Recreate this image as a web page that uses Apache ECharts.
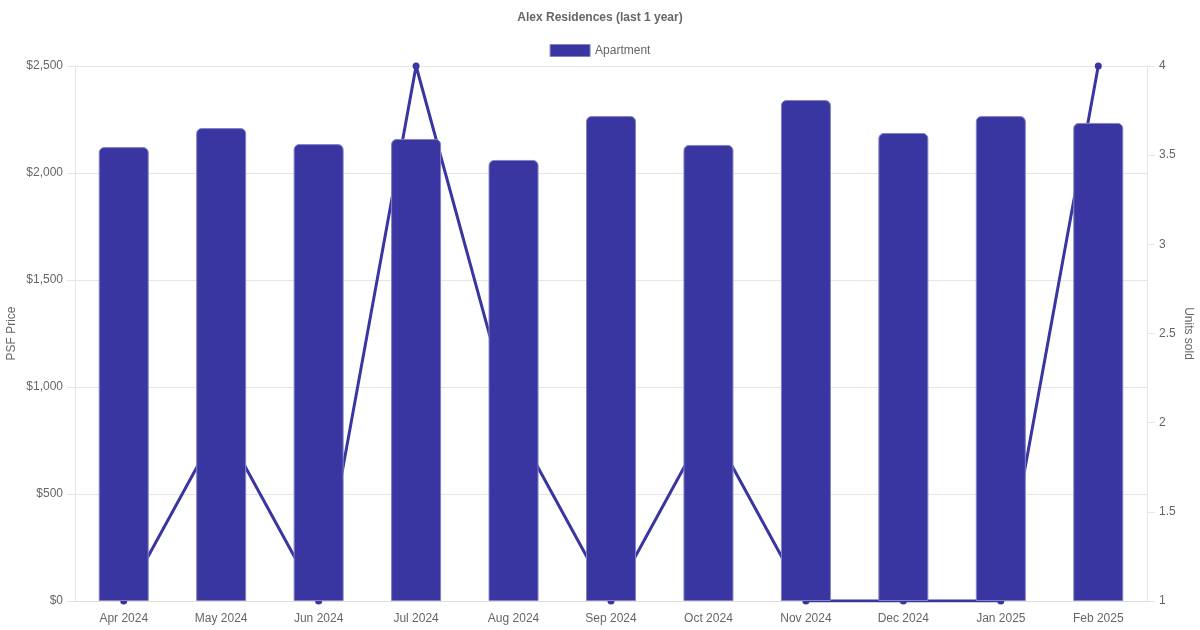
<!DOCTYPE html>
<html>
<head>
<meta charset="utf-8">
<script src="https://cdn.jsdelivr.net/npm/echarts@6/dist/echarts.min.js"></script>
<style>html,body{margin:0;padding:0;background:#fff;}#c{width:1200px;height:630px;}</style>
</head>
<body>
<div id="c"></div>
<script>
const categories = ['Apr 2024','May 2024','Jun 2024','Jul 2024','Aug 2024','Sep 2024','Oct 2024','Nov 2024','Dec 2024','Jan 2025','Feb 2025'];
const psfPrice = [2121, 2210, 2135, 2159, 2061, 2266, 2131, 2341, 2187, 2266, 2234];
const unitsSold = [1, 2, 1, 4, 2, 1, 2, 1, 1, 1, 4];
const leftTicks = {min: 0, max: 2500, interval: 500};
const rightTicks = {min: 1, max: 4, interval: 0.5};

const FONT = '"Liberation Sans", Arial, sans-serif';
const chart = echarts.init(document.getElementById('c'), null, {renderer: 'canvas'});
chart.setOption({
  animation: false,
  textStyle: {fontFamily: FONT},
  title: {
    text: 'Alex Residences (last 1 year)', left: 'center', top: 7,
    textStyle: {fontSize: 12, fontWeight: 'bold', color: '#666', fontFamily: FONT}
  },
  legend: {
    data: [{name: 'Apartment', icon: 'rect'}], top: 39, left: 'center',
    itemWidth: 40, itemHeight: 12, itemGap: 10,
    textStyle: {fontSize: 12, color: '#666', fontFamily: FONT},
    itemStyle: {borderWidth: 1, borderColor: '#8583c6'}
  },
  grid: {left: 75, right: 53, top: 66, bottom: 29, containLabel: false, outerBoundsMode: 'none'},
  xAxis: {
    type: 'category', data: categories,
    axisLine: {show: true, lineStyle: {color: '#ddd', width: 1}},
    axisTick: {show: false},
    axisLabel: {color: '#666', fontSize: 12, margin: 12, fontFamily: FONT},
    splitLine: {show: false}
  },
  yAxis: [{
    type: 'value', min: leftTicks.min, max: leftTicks.max, interval: leftTicks.interval,
    name: 'PSF Price', nameLocation: 'middle', nameGap: 57, nameRotate: 90, nameMoveOverlap: false,
    nameTextStyle: {color: '#666', fontSize: 12, fontFamily: FONT},
    axisLine: {show: true, lineStyle: {color: '#e5e5e5'}},
    axisTick: {show: true, length: 8, lineStyle: {color: '#e5e5e5'}},
    axisLabel: {color: '#666', fontSize: 12, margin: 12, fontFamily: FONT,
      formatter: v => '$' + v.toLocaleString('en-US')},
    splitLine: {show: true, lineStyle: {color: '#e5e5e5', width: 1}}
  }, {
    type: 'value', min: rightTicks.min, max: rightTicks.max, interval: rightTicks.interval,
    position: 'right',
    name: 'Units sold', nameLocation: 'middle', nameGap: 35, nameRotate: -90, nameMoveOverlap: false,
    nameTextStyle: {color: '#666', fontSize: 12, fontFamily: FONT},
    axisLine: {show: true, lineStyle: {color: '#e5e5e5'}},
    axisTick: {show: true, length: 8, lineStyle: {color: '#e5e5e5'}},
    axisLabel: {color: '#666', fontSize: 12, margin: 12, fontFamily: FONT},
    splitLine: {show: false}
  }],
  series: [{
    name: 'Apartment', type: 'bar', data: psfPrice, yAxisIndex: 0,
    barWidth: 50, z: 3,
    itemStyle: {color: '#3936a1', borderColor: '#8583c6', borderWidth: 1, borderRadius: [5,5,0,0]}
  }, {
    name: 'Units sold', type: 'line', data: unitsSold, yAxisIndex: 1,
    z: 2, symbol: 'circle', symbolSize: 7, showSymbol: true,
    lineStyle: {color: '#3936a1', width: 3},
    itemStyle: {color: '#3936a1'}
  }]
});
</script>
</body>
</html>
